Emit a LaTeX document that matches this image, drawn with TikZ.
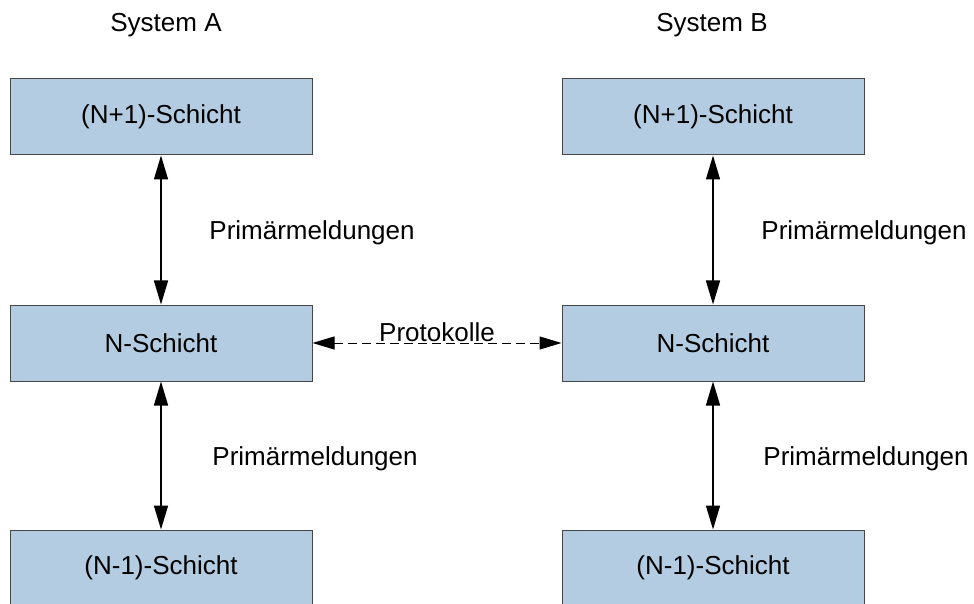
\documentclass[tikz,border=0pt]{standalone}
\usepackage{fontspec}
\setmainfont{Liberation Sans}
\usepackage{tikz}
\usetikzlibrary{arrows.meta,positioning}
\definecolor{layerblue}{RGB}{179,204,225}
\definecolor{layerline}{RGB}{70,70,70}
\tikzstyle{layer} = [draw=layerline, fill=layerblue, line width=0.5pt, rectangle, minimum width=151pt, minimum height=38pt, inner sep=0pt]
\tikzstyle{syslabel} = [font=\fontsize{13}{15}\selectfont]
\tikzstyle{msg} = [{Triangle[length=12pt,width=7pt]}-{Triangle[length=12pt,width=7pt]}, line width=0.75pt]
\tikzstyle{proto} = [{Triangle[length=11pt,width=6.5pt]}-{Triangle[length=11pt,width=6.5pt]}, line width=0.5pt, dash pattern=on 4.5pt off 2.5pt]

\begin{document}
\begin{tikzpicture}[x=0.5pt, y=-0.5pt, font=\fontsize{13}{15}\selectfont]
\useasboundingbox (0,0) rectangle (974,604);
% system A
\node [layer] (a1) at (161,117) {(N+1)-Schicht};
\node [layer] (a2) at (161,343) {N-Schicht};
\node [layer] (a3) at (161,568) {(N-1)-Schicht};
% system B
\node [layer] (b1) at (713,117) {(N+1)-Schicht};
\node [layer] (b2) at (713,343) {N-Schicht};
\node [layer] (b3) at (713,568) {(N-1)-Schicht};
\node [syslabel] (sysA) at (166,25) {System A};
\node [syslabel] (sysB) at (712,25) {System B};
% Primaermeldungen
\draw [msg] (a1) -- node[right=20.5pt, yshift=-1.5pt] {Primärmeldungen} (a2);
\draw [msg] (a2) -- node[right=22pt, yshift=-1.5pt] {Primärmeldungen} (a3);
\draw [msg] (b1) -- node[right=20.5pt, yshift=-1.5pt] {Primärmeldungen} (b2);
\draw [msg] (b2) -- node[right=21.5pt, yshift=-1.5pt] {Primärmeldungen} (b3);
% Protokolle
\draw [proto] (a2) -- node[above, inner sep=0.5pt] {Protokolle} (b2);
\end{tikzpicture}
\end{document}
